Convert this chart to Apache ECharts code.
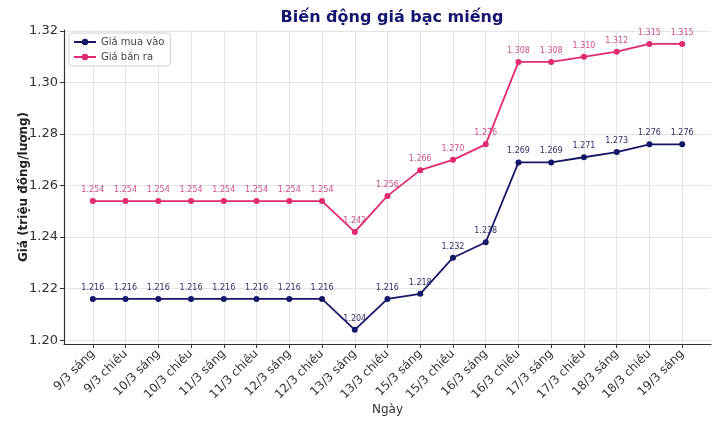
<!DOCTYPE html>
<html>
<head>
<meta charset="utf-8">
<script src="https://cdn.jsdelivr.net/npm/echarts@6/dist/echarts.min.js"></script>
<style>
html,body{margin:0;padding:0;background:#fff;}
#chart{width:720px;height:428px;}
</style>
</head>
<body>
<div id="chart"></div>
<script>
const categories = ["9/3 sáng","9/3 chiều","10/3 sáng","10/3 chiều","11/3 sáng","11/3 chiều","12/3 sáng","12/3 chiều","13/3 sáng","13/3 chiều","15/3 sáng","15/3 chiều","16/3 sáng","16/3 chiều","17/3 sáng","17/3 chiều","18/3 sáng","18/3 chiều","19/3 sáng"];
const buyPrices = [1.216,1.216,1.216,1.216,1.216,1.216,1.216,1.216,1.204,1.216,1.218,1.232,1.238,1.269,1.269,1.271,1.273,1.276,1.276];
const sellPrices = [1.254,1.254,1.254,1.254,1.254,1.254,1.254,1.254,1.242,1.256,1.266,1.270,1.276,1.308,1.308,1.310,1.312,1.315,1.315];
const yTicks = [1.20,1.22,1.24,1.26,1.28,1.30,1.32];

const FONT = "DejaVu Sans";
const xIdx = categories.map((c,i)=>i);
const chart = echarts.init(document.getElementById('chart'));
chart.setOption({
  animation:false,
  backgroundColor:'#fff',
  textStyle:{fontFamily:FONT},
  title:{
    text:'Biến động giá bạc miếng',
    left:387, top:5, textAlign:'center',
    textStyle:{fontFamily:FONT,fontSize:16,fontWeight:'bold',color:'#151570'}
  },
  legend:{
    orient:'vertical', left:69, top:33,
    backgroundColor:'#fff', borderColor:'#d0d0d0', borderWidth:1, borderRadius:3,
    padding:[4,6,4,4], itemGap:5, itemWidth:22, itemHeight:8,
    textStyle:{fontFamily:FONT,fontSize:10,color:'#444'},
    data:['Giá mua vào','Giá bán ra']
  },
  grid:{left:64,right:9,top:30,bottom:84,containLabel:false},
  xAxis:{
    type:'value', min:-0.88, max:18.88,
    name:'Ngày', nameLocation:'middle', nameGap:60, nameMoveOverlap:false,
    nameTextStyle:{fontFamily:FONT,fontSize:12,color:'#333'},
    axisLine:{show:true,onZero:false,lineStyle:{color:'#333',width:1.2}},
    axisTick:{show:true,customValues:xIdx,length:4,lineStyle:{color:'#333'}},
    axisLabel:{customValues:xIdx,rotate:45,fontSize:12,color:'#333',fontFamily:FONT,margin:8,
      formatter:(v)=>categories[Math.round(v)]||''},
    splitLine:{show:true,lineStyle:{color:'#e4e4e4',width:1}}
  },
  yAxis:{
    type:'value', min:1.1985, max:1.3204,
    name:'Giá (triệu đồng/lượng)', nameLocation:'middle', nameGap:34, nameMoveOverlap:false,
    nameTextStyle:{fontFamily:FONT,fontSize:12,fontWeight:'bold',color:'#222'},
    axisLine:{show:true,onZero:false,lineStyle:{color:'#333',width:1.2}},
    axisTick:{show:true,customValues:yTicks,length:4,lineStyle:{color:'#333'}},
    axisLabel:{customValues:yTicks,fontSize:13,color:'#333',fontFamily:FONT,margin:6,
      formatter:(v)=>v.toFixed(2)},
    splitLine:{show:true,lineStyle:{color:'#e4e4e4',width:1}}
  },
  series:[
    {
      name:'Giá mua vào', type:'line',
      data:buyPrices.map((v,i)=>[i,v]),
      symbol:'circle', symbolSize:6,
      lineStyle:{color:'#161668',width:1.8},
      itemStyle:{color:'#161668'},
      label:{show:true,position:'top',distance:4,fontSize:8,color:'#2f2f6a',fontFamily:FONT,
        formatter:(p)=>p.value[1].toFixed(3)}
    },
    {
      name:'Giá bán ra', type:'line',
      data:sellPrices.map((v,i)=>[i,v]),
      symbol:'circle', symbolSize:6,
      lineStyle:{color:'#e02a72',width:1.8},
      itemStyle:{color:'#e02a72'},
      label:{show:true,position:'top',distance:4,fontSize:8,color:'#d0508a',fontFamily:FONT,
        formatter:(p)=>p.value[1].toFixed(3)}
    }
  ]
});
</script>
</body>
</html>
